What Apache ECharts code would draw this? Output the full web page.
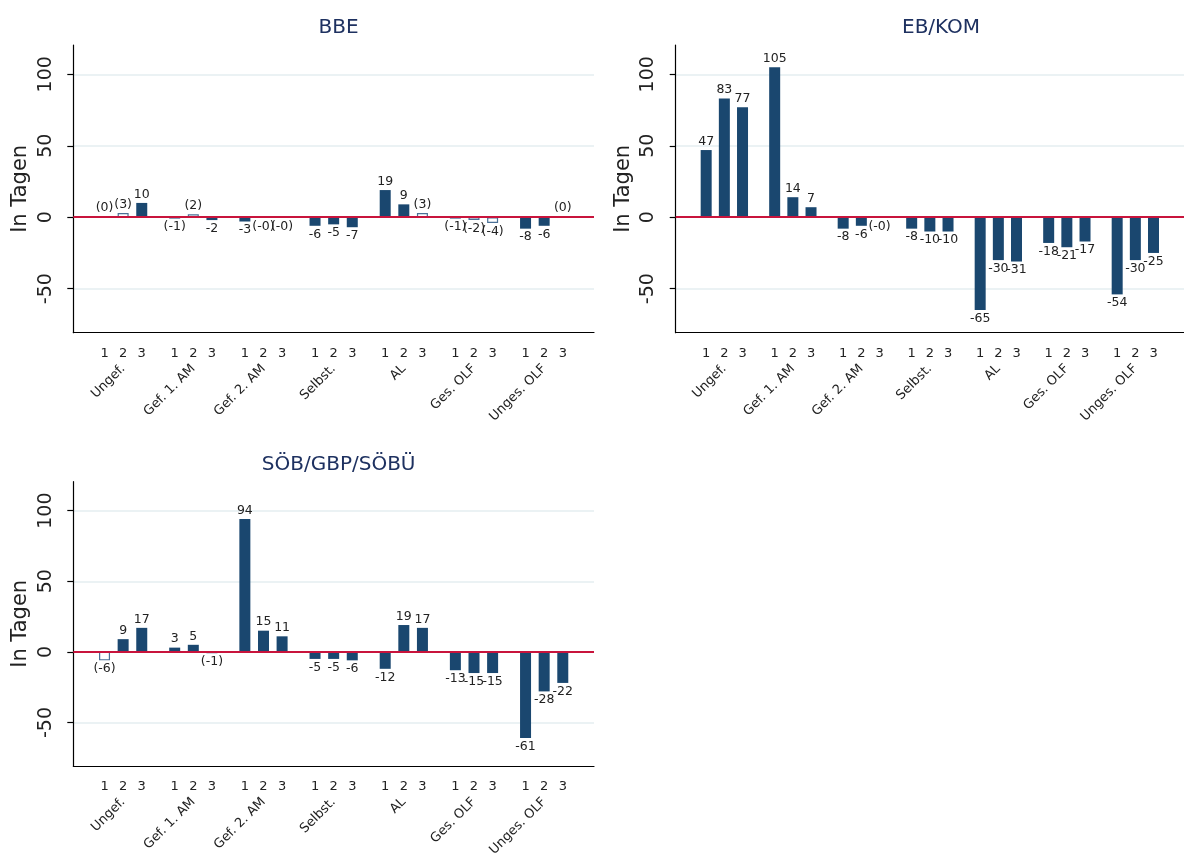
<!DOCTYPE html>
<html>
<head>
<meta charset="utf-8">
<script src="https://cdn.jsdelivr.net/npm/echarts@6/dist/echarts.min.js"></script>
<style>
html,body{margin:0;padding:0;background:#fff;}
#c{width:1184px;height:859px;}
</style>
</head>
<body>
<div id="c"></div>
<script>
// ---- data ----
const groups = ['Ungef.', 'Gef. 1. AM', 'Gef. 2. AM', 'Selbst.', 'AL', 'Ges. OLF', 'Unges. OLF'];
const barLabels = ['1', '2', '3'];
const panelTitles = ['BBE', 'EB/KOM', 'SÖB/GBP/SÖBÜ'];
const yTicks = [-50, 0, 50, 100];

const bbeValues = [0.2, 3, 10, -1, 2, -2, -3, -0.3, -0.3, -6, -5, -7, 19, 9, 3, -1, -2, -4, -8, -6, 0.2];
const bbeSignificant = [0, 0, 1, 0, 0, 1, 1, 0, 0, 1, 1, 1, 1, 1, 0, 0, 0, 0, 1, 1, 0];

const ebkomValues = [47, 83, 77, 105, 14, 7, -8, -6, -0.3, -8, -10, -10, -65, -30, -31, -18, -21, -17, -54, -30, -25];
const ebkomSignificant = [1, 1, 1, 1, 1, 1, 1, 1, 0, 1, 1, 1, 1, 1, 1, 1, 1, 1, 1, 1, 1];

const soebValues = [-6, 9, 17, 3, 5, -1, 94, 15, 11, -5, -5, -6, -12, 19, 17, -13, -15, -15, -61, -28, -22];
const soebSignificant = [0, 1, 1, 1, 1, 0, 1, 1, 1, 1, 1, 1, 1, 1, 1, 1, 1, 1, 1, 1, 1];

// ---- layout ----
const BAR_STEP = 13, GROUP_STEP = 49;
const X_MIN = -21.8, X_MAX = 341.8;
const Y_MIN = -80.8, Y_MAX = 120.5;
const NAVY = '#1a476f';
const FONT = 'DejaVu Sans';

const positions = [];
const posLabel = {};
const groupCenters = [];
const groupLabel = {};
groups.forEach((g, gi) => {
  barLabels.forEach((b, bi) => {
    const p = gi * GROUP_STEP + bi * BAR_STEP;
    positions.push(p);
    posLabel[p] = b;
  });
  const c = gi * GROUP_STEP + BAR_STEP;
  groupCenters.push(c);
  groupLabel[c] = g;
});

function fmt(v, sig) {
  const r = Math.round(v);
  let t = (r === 0 && v < 0) ? '-0' : String(Math.abs(r) === 0 ? 0 : r);
  return sig ? t : '(' + t + ')';
}

const panels = [
  {values: bbeValues, sig: bbeSignificant, left: 73.3, top: 45, height: 287.7},
  {values: ebkomValues, sig: ebkomSignificant, left: 675.7, top: 45, height: 287.7},
  {values: soebValues, sig: soebSignificant, left: 73.3, top: 481.7, height: 288.3}
];
const PW = 520.7;

const grid = [], xAxis = [], yAxis = [], series = [], title = [];
panels.forEach((p, k) => {
  grid.push({left: p.left, top: p.top, width: PW, height: p.height, containLabel: false});
  title.push({
    text: panelTitles[k],
    left: p.left + PW / 2,
    top: p.top - 32,
    textAlign: 'center',
    textStyle: {fontFamily: FONT, fontSize: 20, fontWeight: 'normal', color: '#1e3160'}
  });
  xAxis.push({
    type: 'value', gridIndex: k, min: X_MIN, max: X_MAX, position: 'bottom',
    axisLine: {show: true, onZero: false, lineStyle: {color: '#000', width: 1.2}},
    axisTick: {show: false},
    splitLine: {show: false},
    axisLabel: {
      customValues: positions, margin: 14,
      fontFamily: FONT, fontSize: 13, color: '#222',
      formatter: v => posLabel[v] || ''
    }
  });
  xAxis.push({
    type: 'value', gridIndex: k, min: X_MIN, max: X_MAX, position: 'bottom',
    axisLine: {show: false, onZero: false},
    axisTick: {show: false},
    splitLine: {show: false},
    axisLabel: {
      customValues: groupCenters, margin: 34, rotate: 45,
      fontFamily: FONT, fontSize: 13, color: '#222',
      formatter: v => groupLabel[v] || ''
    }
  });
  yAxis.push({
    type: 'value', gridIndex: k, min: Y_MIN, max: Y_MAX,
    name: 'In Tagen', nameLocation: 'middle', nameRotate: 90, nameGap: 42,
    nameTextStyle: {fontFamily: FONT, fontSize: 21, color: '#222'},
    axisLine: {show: true, onZero: false, lineStyle: {color: '#000', width: 1.2}},
    axisTick: {show: true, customValues: yTicks, length: 6, lineStyle: {color: '#000', width: 1.2}},
    axisLabel: {customValues: yTicks, rotate: 90, margin: 18, fontFamily: FONT, fontSize: 19, color: '#222'},
    splitLine: {show: true, lineStyle: {color: '#e4eef1', width: 1.5}}
  });
  const data = p.values.map((v, i) => {
    const solid = p.sig[i] === 1;
    return {
      value: [positions[i], v],
      itemStyle: solid ? {color: NAVY} : {color: '#fff', borderColor: '#4a7096', borderWidth: 1.2},
      label: {position: v >= 0 ? 'top' : 'bottom', formatter: fmt(v, solid)}
    };
  });
  series.push({
    type: 'bar', xAxisIndex: 2 * k, yAxisIndex: k, barWidth: 11, z: 2,
    data: data,
    label: {show: true, distance: 2, fontFamily: FONT, fontSize: 12.5, color: '#222'},
    markLine: {
      silent: true, symbol: 'none', label: {show: false}, z: 5,
      lineStyle: {color: '#c8143c', width: 2, type: 'solid'},
      data: [{yAxis: 0}]
    }
  });
});

const chart = echarts.init(document.getElementById('c'), null, {renderer: 'canvas'});
chart.setOption({animation: false, backgroundColor: '#fff', title, grid, xAxis, yAxis, series});
</script>
</body>
</html>
